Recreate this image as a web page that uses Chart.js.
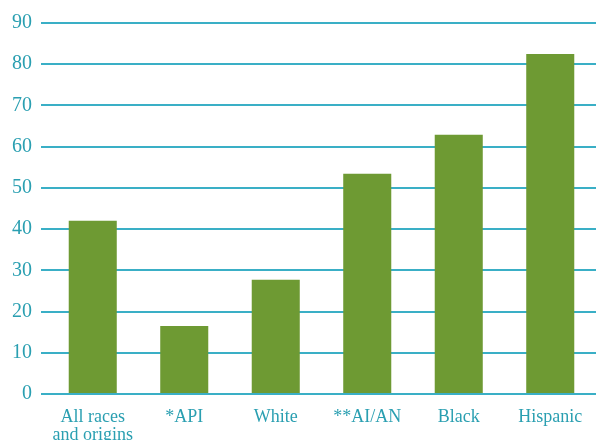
<!DOCTYPE html>
<html>
<head>
<meta charset="utf-8">
<script src="https://cdn.jsdelivr.net/npm/chart.js@4/dist/chart.umd.min.js"></script>
<style>
  html, body { margin: 0; padding: 0; background: #fff; }
  canvas { display: block; }
</style>
</head>
<body>
<canvas id="chart" width="596" height="440"></canvas>
<script>
const groups = [['All races', 'and origins'], '*API', 'White', '**AI/AN', 'Black', 'Hispanic'];
const rates = [42, 16.5, 27.7, 53.4, 62.9, 82.5];
const yTicks = [0, 10, 20, 30, 40, 50, 60, 70, 80, 90];

const teal = '#3aafc6';
const tealText = '#2a9fb1';
const green = '#6e9a33';

const ctx = document.getElementById('chart').getContext('2d');
const chart = new Chart(ctx, {
    type: 'bar',
    data: {
        labels: groups,
        datasets: [{
            data: rates,
            backgroundColor: green,
            borderWidth: 0,
            barPercentage: 0.525,
            categoryPercentage: 1
        }]
    },
    options: {
        responsive: false,
        animation: false,
        devicePixelRatio: 1,
        layout: { padding: { top: 23, left: 10, right: 0, bottom: 0 } },
        plugins: {
            legend: { display: false },
            tooltip: { enabled: false }
        },
        scales: {
            x: {
                afterFit: axis => {
                    axis.height = 46;
                    axis.paddingLeft = 0;
                    axis.paddingRight = 0;
                },
                grid: { display: false },
                border: { display: false },
                ticks: {
                    color: tealText,
                    padding: 6,
                    maxRotation: 0,
                    font: { family: 'Liberation Serif', size: 18, lineHeight: 1.0 }
                }
            },
            y: {
                min: 0,
                max: 90,
                afterBuildTicks: axis => { axis.ticks = yTicks.map(v => ({ value: v })); },
                afterFit: axis => { axis.width = 37; },
                grid: { color: teal, lineWidth: 2, tickLength: 6, drawTicks: true },
                border: { display: false },
                ticks: {
                    color: tealText,
                    padding: 9,
                    font: { family: 'Liberation Serif', size: 20 }
                }
            }
        }
    }
});
</script>
</body>
</html>
